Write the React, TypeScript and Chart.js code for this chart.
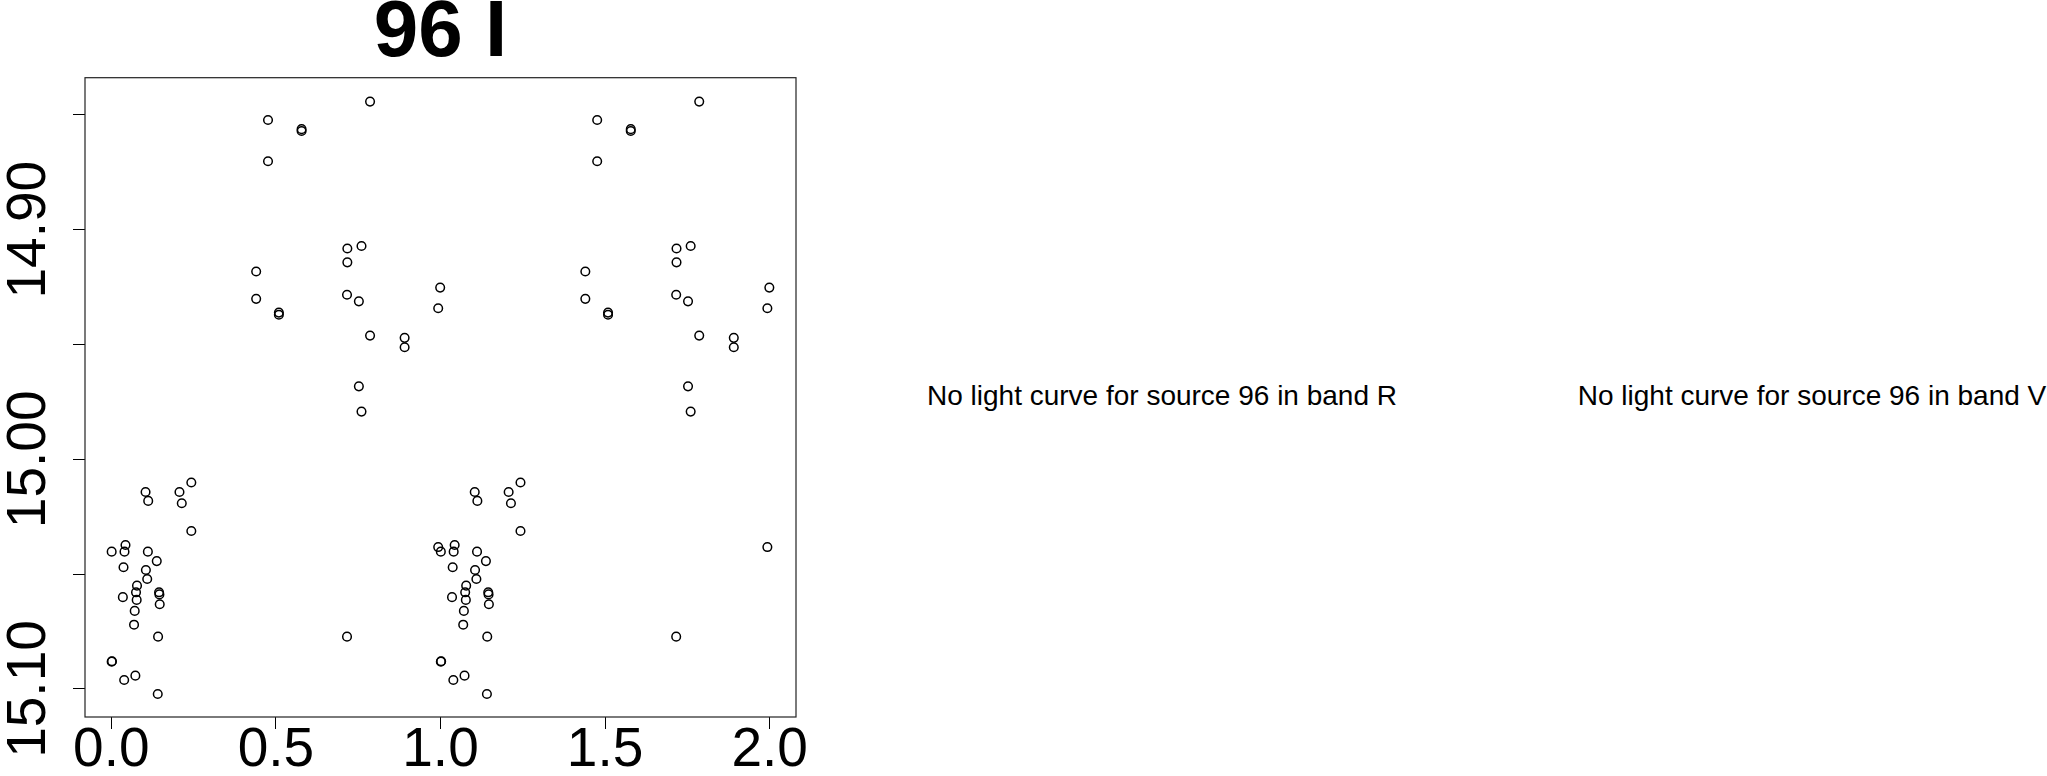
import React, { useEffect, useRef } from "react";
import { Chart, registerables } from "chart.js";

Chart.register(...registerables);

// ---- data (phase-folded light curve, band I, source 96) ----
const TITLE = "96 I";
const PHASE: number[] = [
  0.786, 0.476, 0.578, 0.578, 0.476, 0.760, 0.717, 0.717, 0.440, 0.999, 0.716,
  0.440, 0.752, 0.993, 0.509, 0.509, 0.786, 0.891, 0.891, 0.752, 0.760,
  0.104, 0.112, 0.207, 0.243, 0.214, 0.243, 0.043, 0.001, 0.040, 0.111, 0.138,
  0.037, 0.105, 0.109, 0.078, 0.075, 0.145, 0.146, 0.035, 0.077, 0.147, 0.071,
  0.069, 0.142, 0.716, 0.002, 0.001, 0.039, 0.073, 0.141, 0.993,
];
const MAG: number[] = [
  14.8442, 14.8522, 14.8562, 14.857, 14.8702, 14.9071, 14.9082, 14.9142, 14.9182,
  14.9252, 14.9283, 14.9301, 14.9312, 14.9342, 14.9361, 14.937, 14.9461, 14.9471,
  14.9512, 14.9682, 14.9792,
  15.0142, 15.0181, 15.0142, 15.0101, 15.0191, 15.0312, 15.0373, 15.0402, 15.0402,
  15.0402, 15.0443, 15.047, 15.0482, 15.0521, 15.055, 15.0579, 15.0579, 15.0588,
  15.06, 15.0612, 15.0631, 15.066, 15.072, 15.0772, 15.0772, 15.0879, 15.0881,
  15.0961, 15.0942, 15.1022, 15.0382,
];
const X_TICKS = [0, 0.5, 1, 1.5, 2];
const Y_TICKS = [14.85, 14.9, 14.95, 15.0, 15.05, 15.1];
const Y_LABELED = [14.9, 15.0, 15.1];
const MISSING = [
  { band: "R", center: 1162 },
  { band: "V", center: 1812 },
];

const FONT = '"Liberation Sans", Arial, Helvetica, sans-serif';

export default function App() {
  const ref = useRef<HTMLCanvasElement | null>(null);

  useEffect(() => {
    if (!ref.current) return;
    const pts: { x: number; y: number }[] = [];
    PHASE.forEach((p, i) => {
      pts.push({ x: p, y: MAG[i] });
      pts.push({ x: p + 1, y: MAG[i] });
    });

    const boxPlugin = {
      id: "boxAndYLabels",
      afterDraw(chart: any) {
        const { ctx, chartArea: a } = chart;
        ctx.save();
        ctx.strokeStyle = "#222";
        ctx.lineWidth = 1.2;
        ctx.strokeRect(a.left, a.top, a.right - a.left, a.bottom - a.top);
        const ys = chart.scales.y;
        ctx.fillStyle = "#000";
        ctx.font = `55px ${FONT}`;
        ctx.textAlign = "center";
        ctx.textBaseline = "alphabetic";
        Y_LABELED.forEach((v) => {
          const py = ys.getPixelForValue(v);
          ctx.save();
          ctx.translate(45, py);
          ctx.rotate(-Math.PI / 2);
          ctx.fillText(v.toFixed(2), 0, 0);
          ctx.restore();
        });
        ctx.restore();
      },
    };

    const chart = new Chart(ref.current, {
      type: "scatter",
      data: {
        datasets: [
          {
            data: pts,
            pointStyle: "circle",
            pointRadius: 4.3,
            pointBorderWidth: 1.5,
            pointBorderColor: "#000",
            pointBackgroundColor: "rgba(0,0,0,0)",
            borderColor: "#000",
            backgroundColor: "rgba(0,0,0,0)",
          },
        ],
      },
      options: {
        animation: false,
        responsive: false,
        events: [],
        layout: { padding: { left: 0, right: 24, top: 0, bottom: 0 } },
        plugins: {
          legend: { display: false },
          tooltip: { enabled: false },
          title: {
            display: true,
            text: TITLE,
            fullSize: false,
            color: "#000",
            font: { family: FONT, size: 80, weight: "bold", lineHeight: 0.75 },
            padding: { top: 4, bottom: 13.7 },
          },
        },
        scales: {
          x: {
            type: "linear",
            min: -0.08,
            max: 2.08,
            afterBuildTicks: (s: any) => {
              s.ticks = X_TICKS.map((v) => ({ value: v }));
            },
            afterFit: (s: any) => {
              s.height = 59;
            },
            grid: {
              drawOnChartArea: false,
              drawTicks: true,
              tickLength: 12,
              color: "#000",
              tickColor: "#000",
              lineWidth: 1,
            },
            border: { display: false },
            ticks: {
              color: "#000",
              font: { family: FONT, size: 55, lineHeight: 1 },
              padding: -6,
              maxRotation: 0,
              minRotation: 0,
              autoSkip: false,
              callback: (v: any) => Number(v).toFixed(1),
            },
          },
          y: {
            type: "linear",
            reverse: true,
            min: 14.8338,
            max: 15.1122,
            afterBuildTicks: (s: any) => {
              s.ticks = Y_TICKS.map((v) => ({ value: v }));
            },
            afterFit: (s: any) => {
              s.width = 85;
            },
            grid: {
              drawOnChartArea: false,
              drawTicks: true,
              tickLength: 12,
              color: "#000",
              tickColor: "#000",
              lineWidth: 1,
            },
            border: { display: false },
            ticks: { display: false },
          },
        },
      },
      plugins: [boxPlugin],
    } as any);

    return () => chart.destroy();
  }, []);

  return (
    <div
      style={{
        position: "absolute",
        left: 0,
        top: 0,
        width: 2047,
        height: 776,
        background: "#fff",
        overflow: "hidden",
      }}
    >
      <canvas
        ref={ref}
        width={820}
        height={776}
        style={{ position: "absolute", left: 0, top: 0, width: 820, height: 776 }}
      />
      {MISSING.map((m) => (
        <div
          key={m.band}
          style={{
            position: "absolute",
            left: m.center,
            top: 382,
            transform: "translateX(-50%)",
            whiteSpace: "nowrap",
            fontFamily: FONT,
            fontSize: 28,
            lineHeight: "28px",
            color: "#000",
          }}
        >
          {`No light curve for source 96 in band ${m.band}`}
        </div>
      ))}
    </div>
  );
}
